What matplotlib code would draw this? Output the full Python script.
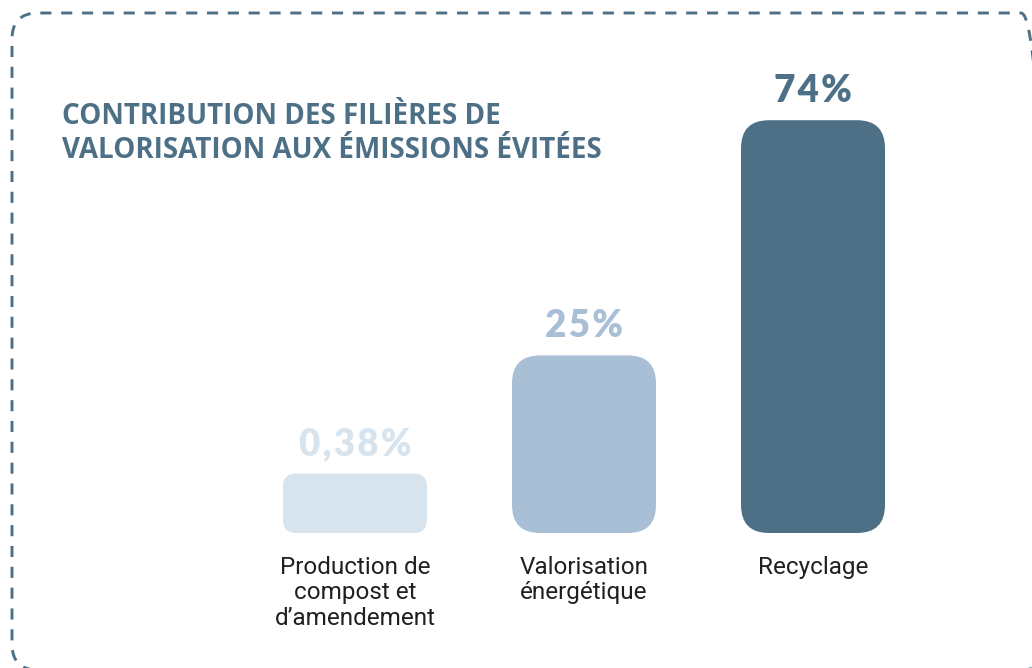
import matplotlib
matplotlib.use("Agg")
import matplotlib.pyplot as plt
from matplotlib.patches import FancyBboxPatch
from matplotlib.transforms import IdentityTransform

# data
categories = ["Production de\ncompost et\nd\u2019amendement", "Valorisation\nénergétique", "Recyclage"]
values = [0.38, 25, 74]
value_labels = ["0,38%", "25%", "74%"]
bar_colors = ["#d7e4ee", "#a8bfd6", "#4d7086"]

title = "CONTRIBUTION DES FILIÈRES DE\nVALORISATION AUX ÉMISSIONS ÉVITÉES"
dark_blue = "#4d7086"
text_dark = "#231f20"

W, H = 1032, 668
fig = plt.figure(figsize=(W / 100, H / 100), dpi=100)
fig.patch.set_facecolor("white")

# dashed rounded frame, in pixels (display coords, y up)
lw = 2.1
frame = FancyBboxPatch((12, H - 670), 1035, 657, boxstyle="round,pad=0,rounding_size=26",
                       fill=False, edgecolor=dark_blue, linewidth=lw,
                       linestyle=(0, (8 / lw, 7 / lw)), transform=IdentityTransform())
fig.add_artist(frame)

# title
fig.text(62 / W, 1 - 158 / H, title, color=dark_blue, fontsize=20, fontweight="bold",
         family=["Open Sans", "DejaVu Sans"], va="baseline", ha="left",
         linespacing=1.22)

# bar axes
px_per_x = 229.0
x_left = -0.8
x_right = 2.8
base = 12  # visual baseline offset below zero
px_per_y = 4.8
bottom_px = 533
top_px = 60
ax_w = (x_right - x_left) * px_per_x
ax_left = 355 - (0 - x_left) * px_per_x
ax = fig.add_axes([ax_left / W, (H - bottom_px) / H, ax_w / W, (bottom_px - top_px) / H])
ax.set_xlim(x_left, x_right)
ax.set_ylim(-base, -base + (bottom_px - top_px) / px_per_y)
ax.axis("off")

bar_w = 144 / px_per_x
aspect = px_per_x / px_per_y
for i, (v, c) in enumerate(zip(values, bar_colors)):
    h = v + base
    r_px = min(28, 0.22 * h * px_per_y)
    patch = FancyBboxPatch((i - bar_w / 2, -base), bar_w, h,
                           boxstyle=f"round,pad=0,rounding_size={r_px / px_per_x}",
                           mutation_aspect=aspect, facecolor=c, edgecolor="none")
    ax.add_patch(patch)
    spaced = "\u200a".join(value_labels[i])
    ax.annotate(spaced, (i, v), xytext=(0, 13), textcoords="offset points",
                ha="center", va="baseline", fontsize=26.5, fontweight="heavy",
                color=c, family=["Lato", "DejaVu Sans"])
    ax.annotate(categories[i], (i, -base), xytext=(0, -16.5), textcoords="offset points",
                ha="center", va="top", fontsize=17.5, color=text_dark,
                family=["Roboto", "DejaVu Sans"],
                linespacing=1.13, annotation_clip=False)

fig.savefig("out.png", dpi=100, facecolor="white")
